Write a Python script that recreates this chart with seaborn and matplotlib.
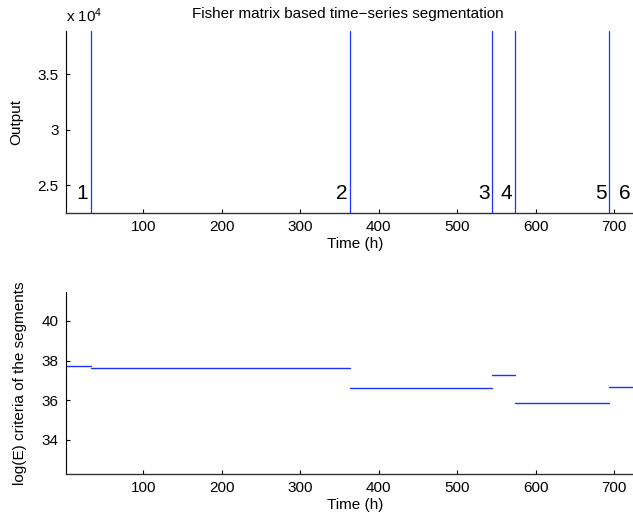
import numpy as np
import pandas as pd
import matplotlib
matplotlib.use("Agg")
import matplotlib.pyplot as plt
import seaborn as sns

# ---- data ----
boundaries = [33, 364, 545, 574, 694, 725]
boundary_labels = ["1", "2", "3", "4", "5", "6"]
seg_start = [1, 33, 364, 545, 574, 694]
seg_end = [33, 364, 545, 574, 694, 725]
seg_logE = [37.75, 37.61, 36.62, 37.27, 35.88, 36.67]
x_ticks = [100, 200, 300, 400, 500, 600, 700]
top_yticks = [25000, 30000, 35000]
top_yticklabels = ["2.5", "3", "3.5"]
bot_yticks = [34, 36, 38, 40]

sns.set_style("ticks")
plt.rcParams["font.family"] = ["Liberation Sans", "DejaVu Sans"]
plt.rcParams["mathtext.fontset"] = "custom"
plt.rcParams["mathtext.rm"] = "Liberation Sans"
plt.rcParams["mathtext.it"] = "Liberation Sans"
plt.rcParams["text.color"] = "black"
plt.rcParams["axes.labelcolor"] = "black"
plt.rcParams["xtick.color"] = "black"
plt.rcParams["ytick.color"] = "black"

W, H = 633, 525
fig = plt.figure(figsize=(W / 100, H / 100), dpi=100)

def px_axes(l, t, r, b):
    return [l / W, 1 - b / H, (r - l) / W, (b - t) / H]

xlim = (1, 740)
x_right_px = 64.5 + 0.785 * xlim[1]

ax1 = fig.add_axes(px_axes(65.5, 31, x_right_px, 213.3))
ax2 = fig.add_axes(px_axes(65.5, 291.7, x_right_px, 474))

blue = "#1a33ff"
for ax in (ax1, ax2):
    ax.set_xlim(*xlim)
    ax.set_xticks(x_ticks)
    for s in ("top", "right"):
        ax.spines[s].set_visible(False)
    ax.spines["left"].set_color("black")
    ax.spines["bottom"].set_color("#333333")
    ax.spines["left"].set_linewidth(0.8)
    ax.spines["bottom"].set_linewidth(1.0)
    ax.tick_params(direction="in", length=3, width=0.8, labelsize=11,
                   colors="black", labelcolor="black", pad=5)
    ax.set_xlabel("Time (h)", fontsize=11, labelpad=2, color="black")
    ax.grid(False)

# top panel
ax1.set_ylim(22500, 38860)
ax1.set_yticks(top_yticks)
ax1.set_yticklabels(top_yticklabels)
for b, lab in zip(boundaries, boundary_labels):
    ax1.axvline(b, color=blue, lw=0.9)
    ax1.annotate(lab, xy=(b, 24300), xytext=(-2, 0), textcoords="offset points",
                 ha="right", va="center", fontsize=15, color="black")
ax1.set_ylabel("Output", fontsize=11, color="black")
ax1.yaxis.set_label_coords(-0.073, 0.5)
ax1.text(0.0, 1.035, r"x 10$^4$", transform=ax1.transAxes, fontsize=11,
         ha="left", va="bottom", color="black")
fig.text(347.5 / W, 1 - 14 / H, "Fisher matrix based time\u2212series segmentation",
         ha="center", va="center", fontsize=11, color="black")

# bottom panel
rows = []
for i, (s, e, v) in enumerate(zip(seg_start, seg_end, seg_logE)):
    rows.append({"seg": i, "Time": s, "logE": v})
    rows.append({"seg": i, "Time": e, "logE": v})
df = pd.DataFrame(rows)
sns.lineplot(data=df, x="Time", y="logE", units="seg", estimator=None,
             color=blue, lw=1.0, ax=ax2, sort=False)
ax2.set_ylim(32.27, 41.48)
ax2.set_yticks(bot_yticks)
ax2.set_xlim(*xlim)
ax2.set_xlabel("Time (h)", fontsize=11, labelpad=2, color="black")
ax2.set_ylabel("log(E) criteria of the segments", fontsize=11, color="black")
ax2.yaxis.set_label_coords(-0.066, 0.5)

fig.savefig("out.png", dpi=100)
